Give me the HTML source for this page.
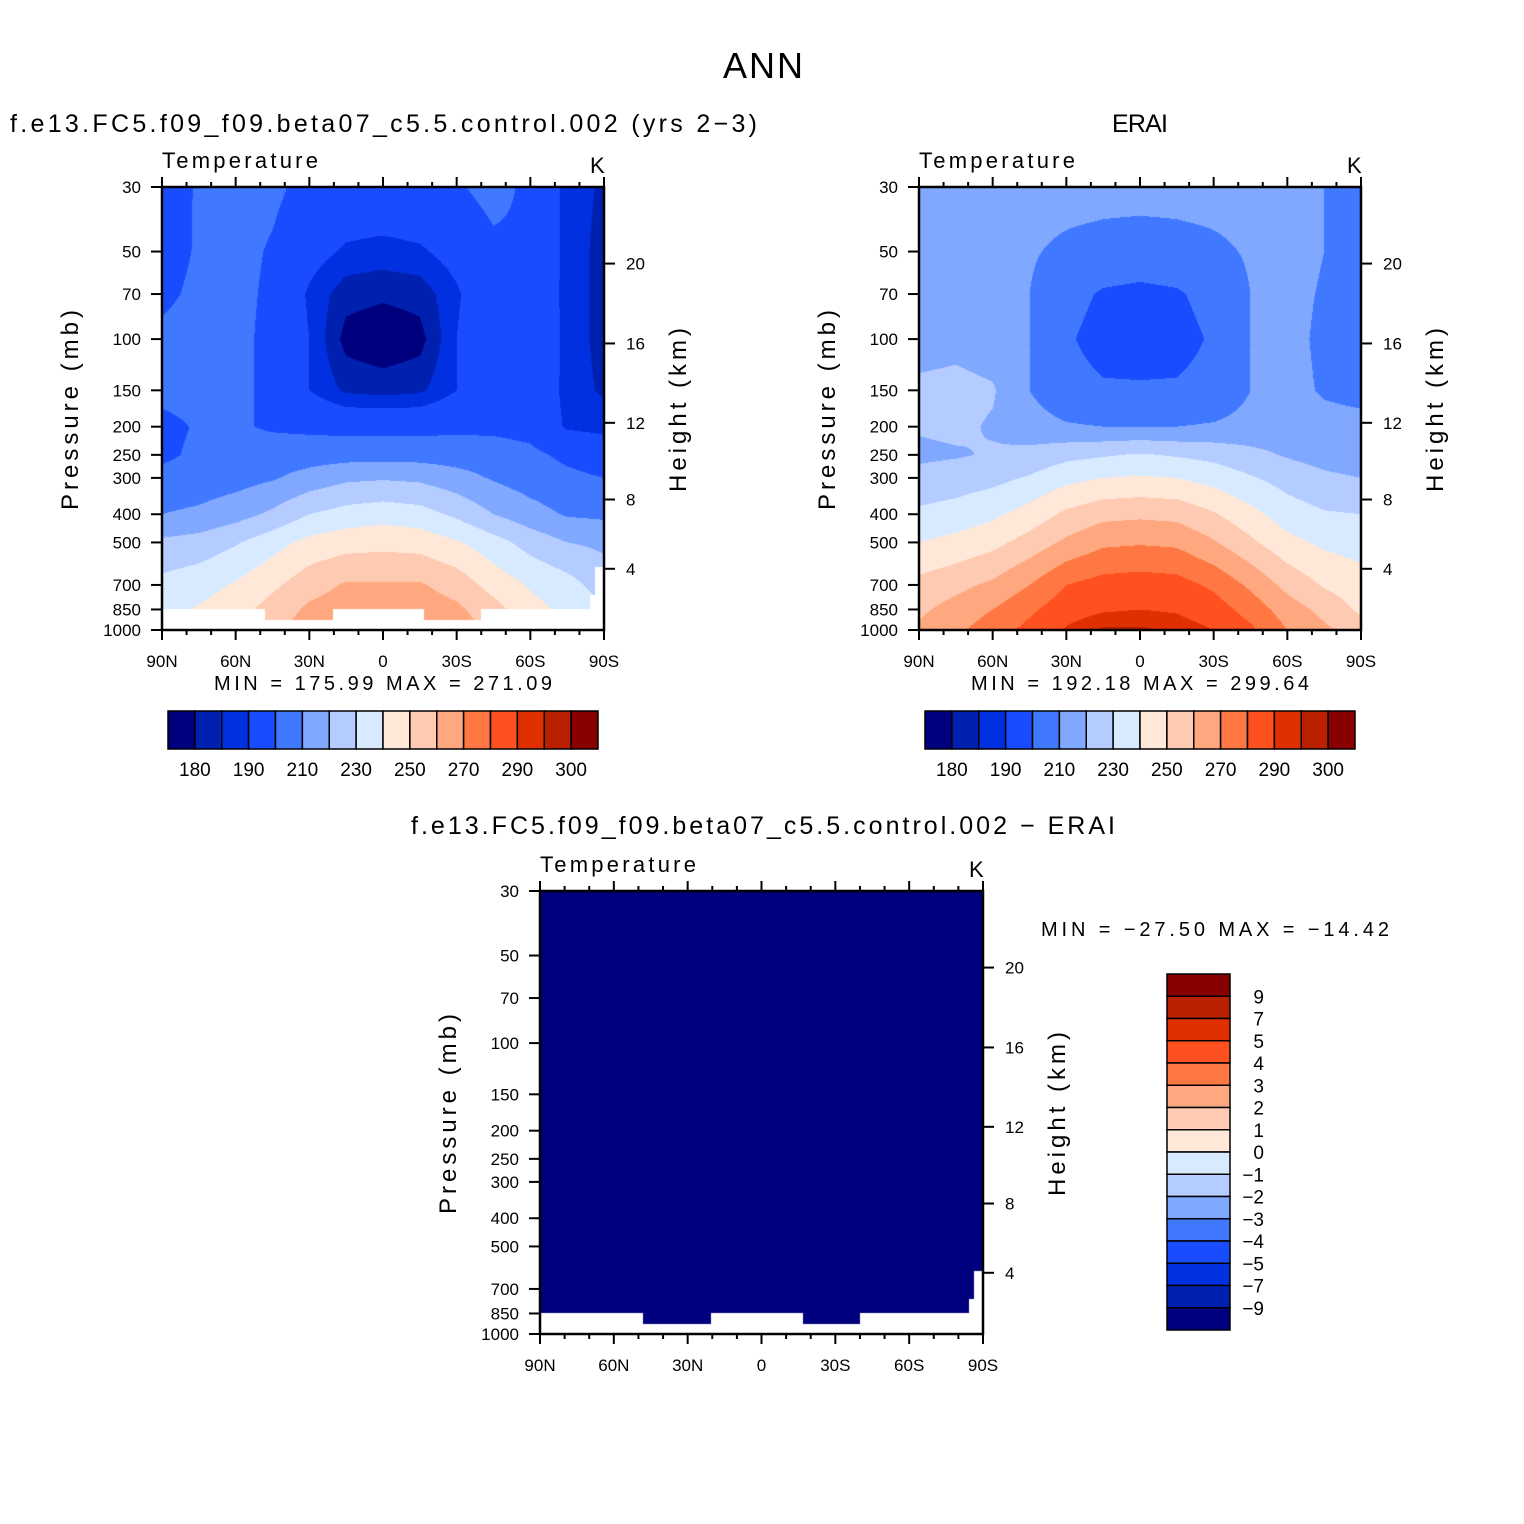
<!DOCTYPE html>
<html><head><meta charset="utf-8">
<style>
html,body{margin:0;padding:0;background:#fff;}
#wrap{position:relative;width:1524px;height:1524px;overflow:hidden;background:#fff;}
canvas{position:absolute;}
svg{position:absolute;left:0;top:0;}
text{font-family:"Liberation Sans",sans-serif;fill:#000;}
</style></head>
<body>
<div id="wrap">
<canvas id="c1" style="left:162px;top:187px" width="442" height="443"></canvas>
<canvas id="c2" style="left:919px;top:187px" width="442" height="443"></canvas>
<canvas id="c3" style="left:540px;top:891px" width="443" height="443"></canvas>
<svg id="svg" width="1524" height="1524" xmlns="http://www.w3.org/2000/svg">
<text x="763" y="78" font-size="36" text-anchor="middle" textLength="80">ANN</text>
<text x="10" y="132" font-size="25" textLength="747">f.e13.FC5.f09_f09.beta07_c5.5.control.002 (yrs 2−3)</text>
<text x="1140" y="132" font-size="25" text-anchor="middle" textLength="56">ERAI</text>
<text x="411" y="834" font-size="25" textLength="704">f.e13.FC5.f09_f09.beta07_c5.5.control.002 − ERAI</text>
</svg>
</div>
<script>
// ---- data ----
const lats = [90,75,60,45,30,15,0,-15,-30,-45,-60,-75,-90];
const pressures = [30,50,70,100,150,200,250,300,400,500,700,850,1000];
const modelT = [
[195,201,204,202,197,196,196,197,199,203,198,188,184],
[196,201,203,199,193,189,188,189,193,198,199,188,183],
[198,202,203,198,189,182,181,182,189,197,197,188,183],
[202,204,203,197,190,178,176,178,190,199,199,188,183],
[203,204,202,198,190,184,183,184,190,197,197,188,184],
[197,201,201,199,198,197,197,197,198,198,197,189,188],
[198,202,203,204,205,206,206,206,205,204,202,198,195],
[203,204,206,209,214,218,219,218,214,209,205,202,200],
[210,212,216,222,230,234,236,234,228,220,214,209,208],
[222,224,229,236,243,246,247,246,241,234,226,220,218],
[233,236,241,248,256,261,261,261,256,246,239,234,225],
[237,241,246,254,262,265,265,265,262,254,243,238,232],
[240,244,249,258,265,268,268,268,265,258,246,241,235]];
const eraiT = [
[214,214,214,214,214,214,214,214,214,214,213,210,208],
[215,215,214,211,208,206,205,206,208,211,214,210,208],
[215,215,214,210,203,199,198,199,203,210,213,209,207],
[216,217,215,210,201,197,196,197,201,210,213,208,206],
[222,223,221,210,203,201,201,201,203,210,213,209,207],
[221,222,219,214,211,210,210,210,211,213,214,213,213],
[218,219,221,223,227,229,231,229,227,223,219,216,214],
[223,225,227,231,237,240,241,240,236,231,226,222,220],
[232,234,238,244,252,257,258,257,251,243,235,231,230],
[240,243,247,254,262,268,269,268,261,252,243,238,236],
[253,257,262,270,280,284,285,284,278,268,257,249,244],
[258,264,270,278,286,289,290,289,285,276,265,257,248],
[262,268,275,283,291,296,296,294,290,282,270,262,255]];
const diffT = [
[-19,-15,-15,-16,-17,-18,-18,-17,-15,-15,-16,-22,-22],
[-19,-14,-15,-16,-15,-17,-17,-17,-15,-15,-15,-22,-24],
[-17,-13,-15,-16,-15,-15,-15,-15,-15,-15,-16,-21,-23],
[-14,-15,-16,-16,-15,-15,-20,-15,-15,-15,-15,-20,-21],
[-19,-19,-19,-16,-15,-15,-15,-15,-15,-15,-16,-21,-20],
[-24,-21,-18,-15,-15,-15,-15,-15,-15,-15,-17,-24,-24],
[-20,-17,-18,-19,-22,-23,-25,-23,-22,-19,-17,-18,-19],
[-20,-21,-21,-22,-23,-22,-22,-22,-22,-22,-21,-20,-20],
[-22,-22,-22,-22,-22,-23,-22,-23,-23,-23,-21,-22,-22],
[-18,-19,-18,-18,-19,-22,-22,-22,-20,-18,-17,-18,-18],
[-20,-21,-21,-22,-24,-23,-24,-23,-22,-22,-18,-15,-19],
[-21,-23,-24,-24,-24,-24,-25,-24,-23,-22,-22,-19,-16],
[-22,-24,-26,-25,-26,-28,-28,-26,-25,-24,-24,-21,-20]];
const tLevels = [180,185,190,200,210,220,230,240,250,260,270,280,290,295,300];
const tLevelLabels = ["180","190","210","230","250","270","290","300"];
const dLevels = [-9,-7,-5,-4,-3,-2,-1,0,1,2,3,4,5,7,9];
const dLevelLabels = ["−9","−7","−5","−4","−3","−2","−1","0","1","2","3","4","5","7","9"];
const palette = ["#00007f","#0020b0","#0030e0","#1a4cff","#4078ff","#80a8ff","#b4ccff","#d8eaff","#ffe8d8","#ffcab2","#ffa880","#ff7844","#ff5020","#e03000","#b82000","#880000"];
const latTickLabels = ["90N","60N","30N","0","30S","60S","90S"];
const latTickValues = [90,60,30,0,-30,-60,-90];
const pTickValues = [30,50,70,100,150,200,250,300,400,500,700,850,1000];
const heightKm = [4,8,12,16,20];
const heightP = [616,356,194,103.5,55];
// below-ground limits: [latNorth, latSouth, deepest pressure drawn]
const groundDefault = 850;
const groundHoles = [[48,20.4,924],[-16.7,-39.9,924],[-84.3,-86.4,758],[-86.4,-90,607]];
const stats = {model:["175.99","271.09"], erai:["192.18","299.64"], diff:["−27.50","−14.42"]};

// ---- axes ----
const LP0 = Math.log(30), LP1 = Math.log(1000);
function yOfP(p,H){return (Math.log(p)-LP0)/(LP1-LP0)*H;}
function xOfLat(lat,W){return (90-lat)/180*W;}
function classify(v,levels){let c=0;while(c<levels.length&&v>=levels[c])c++;return c;}
function depthAt(lat){
  for(const h of groundHoles){if(lat<=h[0]&&lat>=h[1])return h[2];}
  return groundDefault;
}
function sample(grid,lat,p){
  const fi=(90-lat)/15; let i=Math.min(11,Math.floor(fi)); const tx=fi-i;
  const lp=Math.log(p); let j=0;
  while(j<11&&lp>Math.log(pressures[j+1]))j++;
  const ty=(lp-Math.log(pressures[j]))/(Math.log(pressures[j+1])-Math.log(pressures[j]));
  const a=grid[j][i]*(1-tx)+grid[j][i+1]*tx, b=grid[j+1][i]*(1-tx)+grid[j+1][i+1]*tx;
  return a*(1-ty)+b*ty;
}
function drawField(id,grid,levels,useMask){
  const cv=document.getElementById(id),ctx=cv.getContext('2d');
  const W=cv.width,H=cv.height;
  const img=ctx.createImageData(W,H);
  const rgb=palette.map(h=>[parseInt(h.substr(1,2),16),parseInt(h.substr(3,2),16),parseInt(h.substr(5,2),16)]);
  for(let y=0;y<H;y++){
    const p=Math.exp(LP0+(y+0.5)/H*(LP1-LP0));
    for(let x=0;x<W;x++){
      const lat=90-(x+0.5)/W*180;
      const k=(y*W+x)*4;
      let col=[255,255,255];
      if(!useMask||p<=depthAt(lat)){col=rgb[classify(sample(grid,lat,p),levels)];}
      img.data[k]=col[0];img.data[k+1]=col[1];img.data[k+2]=col[2];img.data[k+3]=255;
    }
  }
  ctx.putImageData(img,0,0);
}
drawField('c1',modelT,tLevels,true);
drawField('c2',eraiT,tLevels,false);
drawField('c3',diffT,dLevels,true);

const svg=document.getElementById('svg');
const NS='http://www.w3.org/2000/svg';
function el(tag,attrs,txt){const e=document.createElementNS(NS,tag);for(const k in attrs)e.setAttribute(k,attrs[k]);if(txt!==undefined)e.textContent=txt;svg.appendChild(e);return e;}

function panelAxes(L,T,W,H,prefix,statText,statX,statY,statLen){
  let e;
  e=el('rect',{x:L,y:T,width:W,height:H,fill:'none',stroke:'#000','stroke-width':2.5});
  
  
  for(let lat=90;lat>=-90;lat-=10){
    const x=L+xOfLat(lat,W), len=(lat%30===0)?10:5;
    e=el('line',{x1:x,y1:T,x2:x,y2:T-len,stroke:'#000','stroke-width':2});
    
    
    e=el('line',{x1:x,y1:T+H,x2:x,y2:T+H+len,stroke:'#000','stroke-width':2});
    
    
  }
  latTickValues.forEach((lat,i)=>{
    e=el('text',{x:L+xOfLat(lat,W),y:T+H+37,'font-size':17,'text-anchor':'middle'},latTickLabels[i]);
    
    
  });
  pTickValues.forEach(p=>{
    const y=T+yOfP(p,H);
    e=el('line',{x1:L,y1:y,x2:L-11,y2:y,stroke:'#000','stroke-width':2});
    
    
    e=el('text',{x:L-21,y:y+6,'font-size':17,'text-anchor':'end'},String(p));
    
    
  });
  heightKm.forEach((z,i)=>{
    const y=T+yOfP(heightP[i],H);
    e=el('line',{x1:L+W,y1:y,x2:L+W+11,y2:y,stroke:'#000','stroke-width':2});
    
    
    e=el('text',{x:L+W+22,y:y+6,'font-size':17},String(z));
    
    
  });
  e=el('text',{x:0,y:0,'font-size':24,'text-anchor':'middle',textLength:200,transform:`translate(${L-84},${T+223}) rotate(-90)`},'Pressure (mb)');
  
  
  e=el('text',{x:0,y:0,'font-size':24,'text-anchor':'middle',textLength:164,transform:`translate(${L+W+82},${T+223}) rotate(-90)`},'Height (km)');
  
  
  e=el('text',{x:L,y:T-19,'font-size':22,textLength:156},'Temperature');
  
  
  e=el('text',{x:L+W-14,y:T-14,'font-size':22},'K');
  
  
  e=el('text',{x:statX,y:statY,'font-size':20,textLength:statLen,'xml:space':'preserve'},'MIN = '+statText[0]+'   MAX = '+statText[1]);
  
  
}
panelAxes(162,187,442,443,'model',stats.model,214,690,338);
panelAxes(919,187,442,443,'erai',stats.erai,971,690,338);
panelAxes(540,891,443,443,'diff',stats.diff,1041,936,348);

function hBar(L,T,W,H,prefix){
  const n=palette.length,bw=W/n;let e;
  palette.forEach((c,i)=>{
    e=el('rect',{x:L+i*bw,y:T,width:bw,height:H,fill:c,stroke:'#000','stroke-width':1.5});
    
    
  });
  tLevelLabels.forEach((lab,k)=>{
    const li=tLevels.indexOf(Number(lab));
    e=el('text',{x:L+(li+1)*bw,y:T+H+27,'font-size':19,'text-anchor':'middle'},lab);
    
    
  });
}
hBar(168,711,430,38,'model');
hBar(925,711,430,38,'erai');

(function vBar(L,T,W,H){
  const n=palette.length,bh=H/n;let e;
  palette.slice().reverse().forEach((c,i)=>{
    e=el('rect',{x:L,y:T+i*bh,width:W,height:bh,fill:c,stroke:'#000','stroke-width':1.5});
    
    
  });
  dLevelLabels.slice().reverse().forEach((lab,i)=>{
    e=el('text',{x:L+W+34,y:T+(i+1)*bh+7,'font-size':19,'text-anchor':'end'},lab);
    
    
  });
})(1167,974,63,356);
</script>
</body></html>
